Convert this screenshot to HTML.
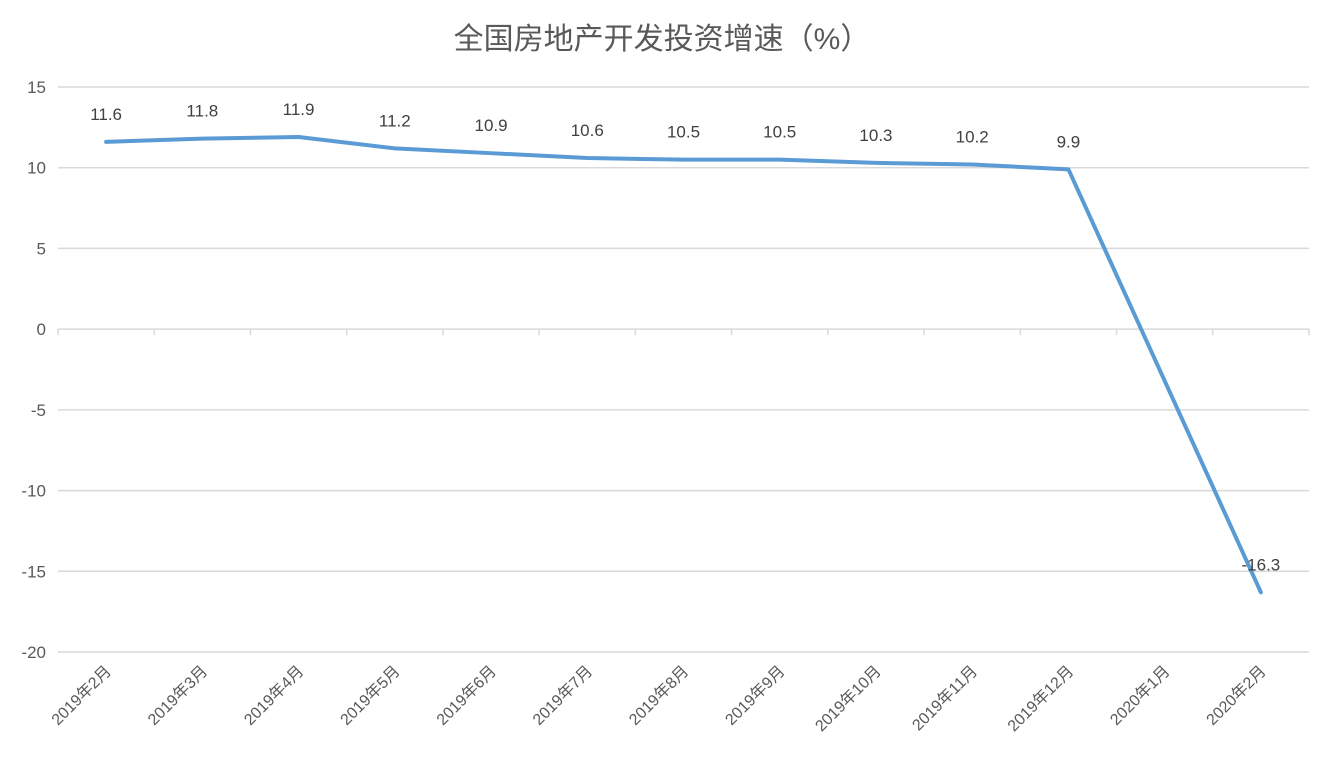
<!DOCTYPE html>
<html><head><meta charset="utf-8">
<style>
html,body{margin:0;padding:0;background:#fff;}
svg text{font-family:"Liberation Sans","Noto Sans CJK SC",sans-serif;}
</style></head>
<body>
<svg id="chart" width="1333" height="777" xmlns="http://www.w3.org/2000/svg">
<rect width="1333" height="777" fill="#fff"/>
<text x="662" y="49" text-anchor="middle" font-size="30" fill="#595959">全国房地产开发投资增速（%）</text>
<g id="grid"></g><g id="axes"></g><g id="series"></g><g id="labels"></g>
</svg>
<script>
const categories=["2019年2月","2019年3月","2019年4月","2019年5月","2019年6月","2019年7月","2019年8月","2019年9月","2019年10月","2019年11月","2019年12月","2020年1月","2020年2月"];
const values=[11.6,11.8,11.9,11.2,10.9,10.6,10.5,10.5,10.3,10.2,9.9,null,-16.3];
const yTicks=[15,10,5,0,-5,-10,-15,-20];
const NS="http://www.w3.org/2000/svg";
const plotL=58,plotR=1309,plotT=87,plotB=652,yMax=15,yMin=-20;
const bw=(plotR-plotL)/categories.length;
function xs(i){return plotL+bw*(i+0.5);}
function ys(v){return plotT+(yMax-v)/(yMax-yMin)*(plotB-plotT);}
function mk(tag,attrs,parent,text){const e=document.createElementNS(NS,tag);for(const k in attrs)e.setAttribute(k,attrs[k]);if(text!==undefined)e.textContent=text;document.getElementById(parent).appendChild(e);return e;}
yTicks.forEach(t=>{
  const l=mk('line',{x1:plotL,x2:plotR,y1:ys(t),y2:ys(t),stroke:'#d9d9d9','stroke-width':1.5},'grid');
  
  
  const tx=mk('text',{x:46,y:ys(t)+6,'text-anchor':'end','font-size':17,fill:'#595959'},'axes',String(t));
  
  
});
for(let i=0;i<=categories.length;i++){
  const x=plotL+bw*i;
  const tk=mk('line',{x1:x,x2:x,y1:ys(0),y2:ys(0)+6,stroke:'#d9d9d9','stroke-width':1.5},'axes');
  
  
}
categories.forEach((c,i)=>{
  const x=xs(i)+6,y=672;
  const t=mk('text',{x:x,y:y,'text-anchor':'end','font-size':16,fill:'#595959',transform:`rotate(-45 ${x} ${y})`},'axes',c);
  
  
});
let d='';
values.forEach((v,i)=>{if(v===null)return;d+=(d?'L':'M')+xs(i)+','+ys(v);});
const p=mk('path',{d:d,fill:'none',stroke:'#5b9bd5','stroke-width':4,'stroke-linejoin':'round','stroke-linecap':'round'},'series');


values.forEach((v,i)=>{
  if(v===null)return;
  const t=mk('text',{x:xs(i),y:ys(v)-22,'text-anchor':'middle','font-size':17,fill:'#404040'},'labels',v.toFixed(1));
  
  
});
</script>
</body></html>
